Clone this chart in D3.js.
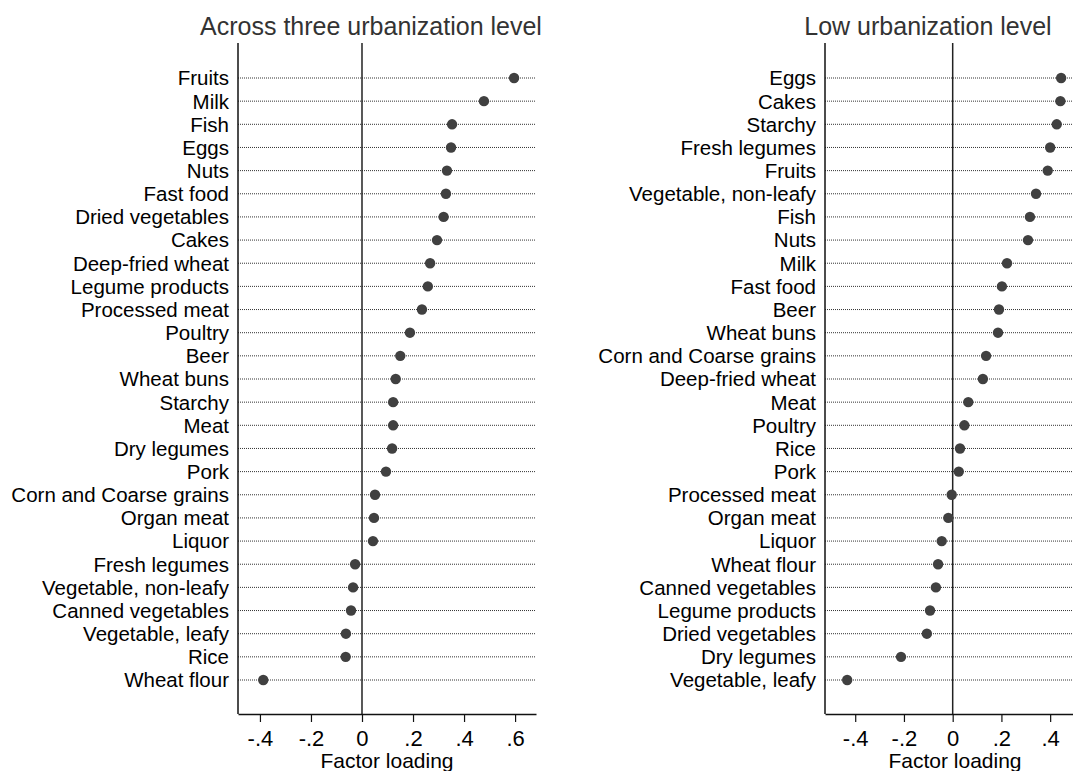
<!DOCTYPE html>
<html>
<head>
<meta charset="utf-8">
<script src="https://cdn.jsdelivr.net/npm/d3@7"></script>
<style>
  body { margin: 0; background: #fff; }
  svg { display: block; font-family: "Liberation Sans", Arial, sans-serif; }
</style>
</head>
<body>
<svg id="chart" width="1073" height="771"></svg>
<script>
// Left panel: across three urbanization level
var leftFoods = ["Fruits", "Milk", "Fish", "Eggs", "Nuts", "Fast food", "Dried vegetables",
  "Cakes", "Deep-fried wheat", "Legume products", "Processed meat", "Poultry", "Beer",
  "Wheat buns", "Starchy", "Meat", "Dry legumes", "Pork", "Corn and Coarse grains",
  "Organ meat", "Liquor", "Fresh legumes", "Vegetable, non-leafy", "Canned vegetables",
  "Vegetable, leafy", "Rice", "Wheat flour"];
var leftLoadings = [0.596, 0.478, 0.353, 0.349, 0.333, 0.329, 0.320, 0.294, 0.267, 0.258,
  0.235, 0.188, 0.150, 0.132, 0.122, 0.122, 0.118, 0.094, 0.051, 0.047, 0.043, -0.027,
  -0.035, -0.043, -0.063, -0.064, -0.387];

// Right panel: low urbanization level
var rightFoods = ["Eggs", "Cakes", "Starchy", "Fresh legumes", "Fruits", "Vegetable, non-leafy",
  "Fish", "Nuts", "Milk", "Fast food", "Beer", "Wheat buns", "Corn and Coarse grains",
  "Deep-fried wheat", "Meat", "Poultry", "Rice", "Pork", "Processed meat", "Organ meat",
  "Liquor", "Wheat flour", "Canned vegetables", "Legume products", "Dried vegetables",
  "Dry legumes", "Vegetable, leafy"];
var rightLoadings = [0.445, 0.442, 0.427, 0.400, 0.390, 0.342, 0.317, 0.309, 0.223, 0.202,
  0.190, 0.186, 0.137, 0.124, 0.064, 0.048, 0.030, 0.025, -0.004, -0.018, -0.045, -0.060,
  -0.069, -0.093, -0.106, -0.212, -0.433];

var leftTicks = [-0.4, -0.2, 0, 0.2, 0.4, 0.6];
var rightTicks = [-0.4, -0.2, 0, 0.2, 0.4];

var svg = d3.select("#chart");

// Stata style tick labels: -.4, 0, .2
function tickFmt(d) {
  if (Math.abs(d) < 1e-9) return "0";
  return (d < 0 ? "-" : "") + "." + Math.round(Math.abs(d) * 10);
}

function drawPanel(opts) {
  var g = svg.append("g");
  var top = 43, bottom = 714;

  var x = d3.scaleLinear().domain(opts.domain).range([opts.left, opts.right]);
  var y = d3.scalePoint().domain(opts.foods).range([78, 680]);

  // title
  g.append("text")
    .attr("x", opts.titleX)
    .attr("y", 35)
    .attr("text-anchor", "middle")
    .attr("font-size", 25)
    .attr("fill", "#333")
    .text(opts.title);

  // dotted guide lines for each row
  g.selectAll(".guide")
    .data(opts.foods)
    .enter().append("line")
      .attr("class", "guide")
      .attr("x1", opts.left)
      .attr("x2", opts.right)
      .attr("y1", function(d) { return y(d); })
      .attr("y2", function(d) { return y(d); })
      .attr("stroke", "#333")
      .attr("stroke-width", 1)
      .attr("stroke-dasharray", "1,1");

  // zero reference line
  g.append("line")
    .attr("x1", x(0)).attr("x2", x(0))
    .attr("y1", top).attr("y2", bottom)
    .attr("stroke", "#222")
    .attr("stroke-width", 1.5);

  // left axis line
  g.append("line")
    .attr("x1", opts.left).attr("x2", opts.left)
    .attr("y1", top).attr("y2", bottom)
    .attr("stroke", "#111")
    .attr("stroke-width", 1.5);

  // category labels
  g.selectAll(".lab")
    .data(opts.foods)
    .enter().append("text")
      .attr("class", "lab")
      .attr("x", opts.left - 9)
      .attr("y", function(d) { return y(d); })
      .attr("dy", "0.36em")
      .attr("text-anchor", "end")
      .attr("font-size", 20.5)
      .attr("fill", "#000")
      .text(function(d) { return d; });

  // dots
  g.selectAll(".dot")
    .data(opts.foods)
    .enter().append("circle")
      .attr("class", "dot")
      .attr("cx", function(d, i) { return x(opts.values[i]); })
      .attr("cy", function(d) { return y(d); })
      .attr("r", 5.2)
      .attr("fill", "#404040");

  // bottom axis
  var axis = g.append("g")
    .attr("transform", "translate(0," + bottom + ")")
    .call(d3.axisBottom(x).tickValues(opts.ticks).tickFormat(tickFmt).tickSize(8).tickSizeOuter(0));
  axis.select(".domain").attr("stroke", "#111").attr("stroke-width", 1.5);
  axis.selectAll(".tick line").attr("stroke", "#111").attr("stroke-width", 1.2);
  axis.selectAll(".tick text")
    .attr("y", 16)
    .attr("dy", "0.71em")
    .attr("font-size", 22)
    .attr("font-family", "Liberation Sans, Arial, sans-serif")
    .attr("fill", "#000");

  // axis title
  g.append("text")
    .attr("x", (opts.left + opts.right) / 2)
    .attr("y", 768)
    .attr("text-anchor", "middle")
    .attr("font-size", 21)
    .attr("fill", "#000")
    .text("Factor loading");
}

drawPanel({
  foods: leftFoods, values: leftLoadings, ticks: leftTicks,
  domain: [-0.486, 0.682], left: 238, right: 536,
  title: "Across three urbanization level", titleX: 371
});

drawPanel({
  foods: rightFoods, values: rightLoadings, ticks: rightTicks,
  domain: [-0.524, 0.543], left: 825, right: 1085,
  title: "Low urbanization level", titleX: 928
});
</script>
</body>
</html>
